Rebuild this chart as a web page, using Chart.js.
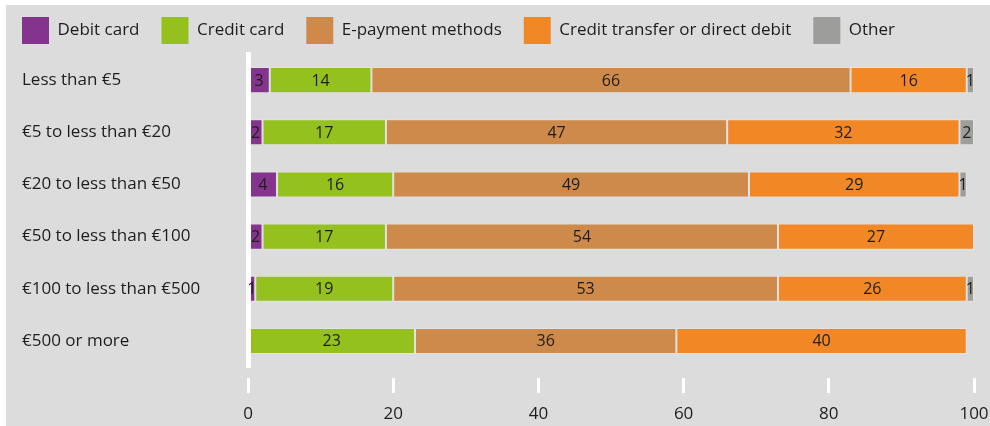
<!DOCTYPE html>
<html>
<head>
<meta charset="utf-8">
<script src="https://cdn.jsdelivr.net/npm/chart.js@4/dist/chart.umd.min.js"></script>
<style>
  html, body { margin: 0; padding: 0; background: #ffffff; }
  body { width: 990px; height: 426px; position: relative; overflow: hidden; }
  #panel { position: absolute; left: 6px; top: 5px; width: 984px; height: 421px; background: #dcdcdc; }
  #wrap { position: absolute; left: 0; top: -5px; width: 990px; height: 431px; }
</style>
</head>
<body>
<div id="panel"></div>
<div id="wrap"><canvas id="chart"></canvas></div>
<script>
// Payment method shares (%) by purchase amount
const categories = [
  'Less than €5',
  '€5 to less than €20',
  '€20 to less than €50',
  '€50 to less than €100',
  '€100 to less than €500',
  '€500 or more'
];
const debitCard      = [3, 2, 4, 2, 1, 0];
const creditCard     = [14, 17, 16, 17, 19, 23];
const ePayment       = [66, 47, 49, 54, 53, 36];
const creditTransfer = [16, 32, 29, 27, 26, 40];
const other          = [1, 2, 1, 0, 1, 0];
const xTicks = [0, 20, 40, 60, 80, 100];

const FONT = '"Open Sans", "Noto Sans", sans-serif';
const TEXT = '#1d1d1b';

// Writes each segment's value in the middle of its bar piece (on top of the axis line)
const valueLabels = {
  id: 'valueLabels',
  afterDraw(chart) {
    const ctx = chart.ctx;
    ctx.save();
    ctx.font = '16px ' + FONT;
    ctx.fillStyle = TEXT;
    ctx.textAlign = 'center';
    ctx.textBaseline = 'middle';
    chart.data.datasets.forEach((ds, i) => {
      const meta = chart.getDatasetMeta(i);
      if (meta.hidden) return;
      meta.data.forEach((bar, j) => {
        const v = ds.data[j];
        if (!v) return;
        const p = bar.getProps(['x', 'y', 'base'], true);
        ctx.fillText(String(v), (p.x + p.base) / 2, p.y + 1);
      });
    });
    ctx.restore();
  }
};

// Legend row starts at the canvas edge, independent of the axis padding
const legendToEdge = {
  id: 'legendToEdge',
  afterLayout(chart) {
    if (chart.legend) {
      chart.legend.left = 0;
      chart.legend.right = chart.width;
    }
  }
};

const series = [
  { label: 'Debit card', data: debitCard, color: '#85348d' },
  { label: 'Credit card', data: creditCard, color: '#95c11f' },
  { label: 'E-payment methods', data: ePayment, color: '#cd8a4b' },
  { label: 'Credit transfer or direct debit', data: creditTransfer, color: '#f18825' },
  { label: 'Other', data: other, color: '#9d9d9c' }
];

new Chart(document.getElementById('chart'), {
  type: 'bar',
  data: {
    labels: categories,
    datasets: series.map(s => ({
      label: s.label,
      data: s.data,
      backgroundColor: s.color,
      borderColor: 'rgba(255,255,255,0.22)',
      borderWidth: 1,
      borderSkipped: false,
      categoryPercentage: 1,
      barPercentage: 0.5
    }))
  },
  options: {
    indexAxis: 'y',
    responsive: true,
    maintainAspectRatio: false,
    animation: false,
    layout: { padding: { left: 22, right: 16, top: 0, bottom: 0 } },
    plugins: {
      tooltip: { enabled: false },
      legend: {
        position: 'top',
        align: 'start',
        labels: {
          boxWidth: 27,
          boxHeight: 27,
          padding: 22,
          color: TEXT,
          font: { family: FONT, size: 17 },
          generateLabels(chart) {
            return Chart.defaults.plugins.legend.labels.generateLabels(chart)
              .map(item => Object.assign(item, { lineWidth: 0 }));
          }
        }
      }
    },
    scales: {
      x: {
        stacked: true,
        min: 0,
        max: 100,
        afterBuildTicks(scale) { scale.ticks = xTicks.map(v => ({ value: v })); },
        afterFit(scale) {
          scale.height = 59;
          scale.paddingLeft = 0;
          scale.paddingRight = 0;
        },
        border: { display: false },
        grid: {
          drawOnChartArea: false,
          drawTicks: true,
          tickLength: 26,
          tickWidth: 3,
          tickColor: '#ffffff',
          tickBorderDash: [0, 11, 15, 100]
        },
        ticks: {
          padding: 11,
          color: TEXT,
          font: { family: FONT, size: 17 }
        }
      },
      y: {
        stacked: true,
        afterFit(scale) { scale.width = 226; },
        border: { display: true, color: '#ffffff', width: 5, z: 1 },
        grid: { display: false, drawTicks: false },
        ticks: {
          crossAlign: 'far',
          color: TEXT,
          font: { family: FONT, size: 17 }
        }
      }
    }
  },
  plugins: [valueLabels, legendToEdge]
});
</script>
</body>
</html>
